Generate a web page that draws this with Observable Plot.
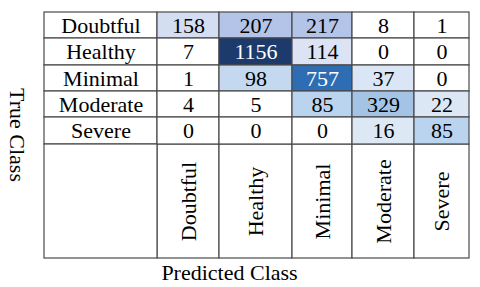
<!DOCTYPE html>
<html>
<head>
<meta charset="utf-8">
<script src="https://cdn.jsdelivr.net/npm/d3@7"></script>
<script src="https://cdn.jsdelivr.net/npm/@observablehq/plot@0.6"></script>
<style>
  html, body { margin: 0; padding: 0; background: #fff; }
  #chart svg { display: block; font-family: "Liberation Serif", "Times New Roman", serif; }
  #chart svg text { font-family: "Liberation Serif", "Times New Roman", serif; }
</style>
</head>
<body>
<div id="chart"></div>
<script>
// Class names (true classes = rows, predicted classes = columns)
const classes = ["Doubtful", "Healthy", "Minimal", "Moderate", "Severe"];

// Confusion-matrix counts, one array per true class
const doubtful = [158, 207, 217, 8, 1];
const healthy  = [7, 1156, 114, 0, 0];
const minimal  = [1, 98, 757, 37, 0];
const moderate = [4, 5, 85, 329, 22];
const severe   = [0, 0, 0, 16, 85];

const rowsValues = [doubtful, healthy, minimal, moderate, severe];

const yTitle = "True Class";
const xTitle = "Predicted Class";

// Build the cell table
const cells = [];
rowsValues.forEach((vals, r) => {
  vals.forEach((v, c) => cells.push({row: r, col: c, trueClass: classes[r], predClass: classes[c], value: v}));
});
const rowHeaders = classes.map((name, i) => ({name, row: i, col: -1}));
const colHeaders = classes.map((name, i) => ({name, row: 5, col: i}));
const corner = [{row: 5, col: -1}];

const font = "Liberation Serif";
const fs = 22;
const lineColor = "#4a4a4a";

const chart = Plot.plot({
  width: 480,
  height: 287,
  marginTop: 0, marginRight: 0, marginBottom: 0, marginLeft: 0,
  style: {fontFamily: "'Liberation Serif', serif", fontSize: fs + "px", background: "white", color: "black"},
  x: {type: "linear", domain: [-1, 0, 1, 2, 3, 4, 5], range: [44, 157, 219, 292, 352, 414, 469], axis: null},
  y: {type: "linear", domain: [0, 1, 2, 3, 4, 5, 6], range: [12, 38, 65, 91, 117, 144, 258], axis: null},
  color: {
    type: "linear",
    domain: [0, 8, 16, 37, 85, 98, 114, 158, 207, 217, 329, 757, 1156],
    range: ["#ffffff", "#ffffff", "#dde8f5", "#dae6f5", "#bad3ee", "#c4d9ef", "#dbe3f4", "#d4def2", "#b3c4e8", "#b3c4e8", "#a3c4e5", "#2e6db3", "#1c3a6c"]
  },
  marks: [
    // header cells
    Plot.rect(rowHeaders, {x1: d => d.col, x2: d => d.col + 1, y1: d => d.row, y2: d => d.row + 1, fill: "white", stroke: lineColor, strokeWidth: 1.2}),
    Plot.rect(colHeaders, {x1: d => d.col, x2: d => d.col + 1, y1: d => d.row, y2: d => d.row + 1, fill: "white", stroke: lineColor, strokeWidth: 1.2}),
    Plot.rect(corner, {x1: d => d.col, x2: d => d.col + 1, y1: d => d.row, y2: d => d.row + 1, fill: "white", stroke: lineColor, strokeWidth: 1.2}),
    // matrix cells
    Plot.rect(cells, {x1: d => d.col, x2: d => d.col + 1, y1: d => d.row, y2: d => d.row + 1, fill: "value", stroke: lineColor, strokeWidth: 1.2}),
    // values
    Plot.text(cells, {x: d => d.col + 0.5, y: d => d.row + 0.5, text: d => String(d.value), fill: d => d.value > 500 ? "white" : "black", fontSize: fs, fontFamily: font, lineAnchor: "middle", textAnchor: "middle"}),
    // row labels
    Plot.text(rowHeaders, {x: d => d.col + 0.5, y: d => d.row + 0.5, text: "name", fill: "black", fontSize: fs, fontFamily: font, lineAnchor: "middle", textAnchor: "middle"}),
    // column labels (rotated)
    Plot.text(colHeaders, {x: d => d.col + 0.5, y: d => d.row + 0.5, text: "name", rotate: -90, fill: "black", fontSize: fs, fontFamily: font, lineAnchor: "middle", textAnchor: "middle"}),
    // axis titles
    Plot.text([yTitle], {frameAnchor: "left", dx: 17, dy: -9, rotate: 90, fill: "black", fontSize: fs, fontFamily: font, lineAnchor: "middle", textAnchor: "middle"}),
    Plot.text([xTitle], {frameAnchor: "bottom", dx: -11, dy: -15, fill: "black", fontSize: fs, fontFamily: font, lineAnchor: "middle", textAnchor: "middle"})
  ]
});

document.getElementById("chart").appendChild(chart);
</script>
</body>
</html>
